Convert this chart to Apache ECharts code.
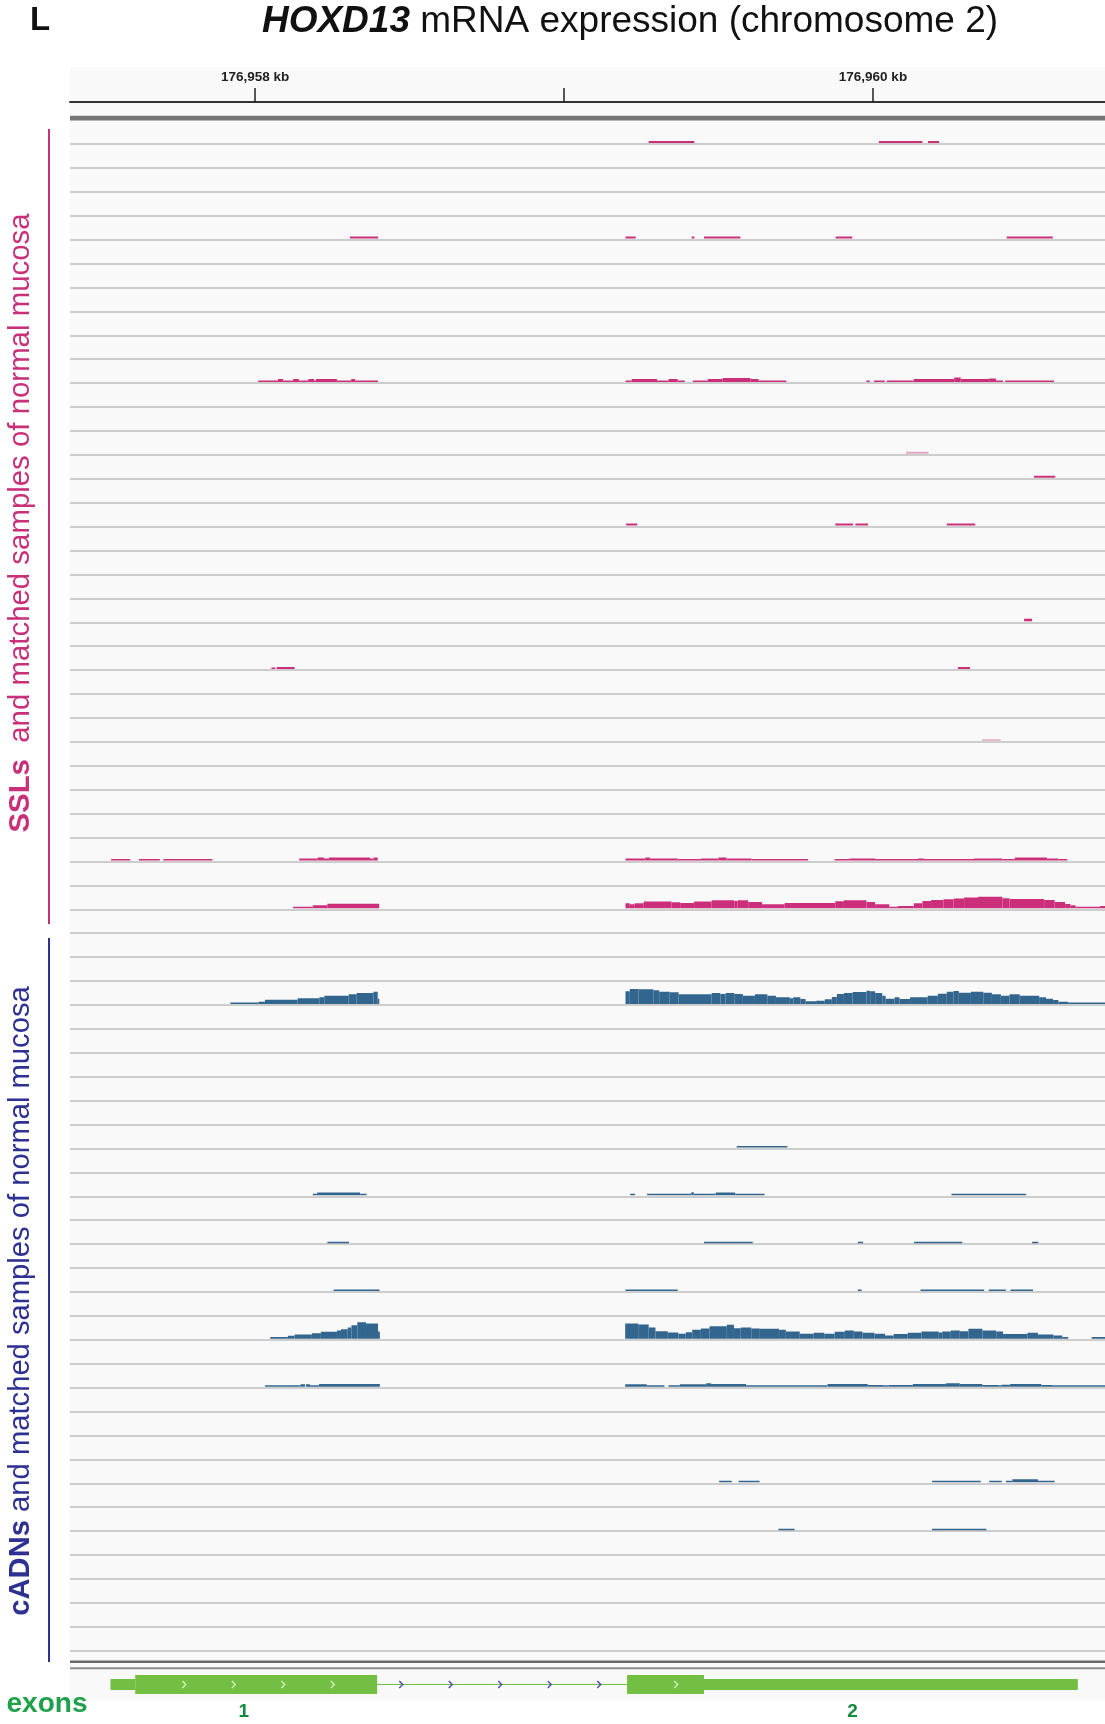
<!DOCTYPE html>
<html><head><meta charset="utf-8">
<script src="https://cdn.jsdelivr.net/npm/echarts@6/dist/echarts.min.js"></script>
<style>html,body{margin:0;padding:0;background:#fff}#c{width:1105px;height:1724px}</style>
</head><body><div id="c"></div><script>
// ---------- genomic window (bp) and ruler ----------
const X_MIN = 176957401, X_MAX = 176960751;
const RULER_TICKS = [176958000, 176959000, 176960000];
const RULER_LABELS = [176958000, 176960000];
const TRACK_COUNT = 64;
const DATA_RANGE = 24;   // coverage range of each track row

// ---------- coverage segments: [start bp, end bp, depth] ----------
const ssl_r00 = [[176959274,176959422,2],[176960019,176960160,2],[176960178,176960214,2]];
const ssl_r04 = [[176958307,176958398,2],[176959199,176959232,2],[176959413,176959422,2],[176959453,176959571,2],[176959879,176959933,2],[176960433,176960582,2]];
const ssl_r10 = [[176958010,176958074,1.5],[176958074,176958091,3],[176958091,176958123,1.5],[176958123,176958142,3],[176958142,176958172,1.5],[176958172,176958191,3],[176958191,176958197,1.5],[176958197,176958265,3],[176958265,176958311,1.5],[176958311,176958324,3],[176958324,176958398,1.5],
 [176959199,176959219,1.5],[176959219,176959301,3],[176959301,176959338,1.5],[176959338,176959368,3],[176959368,176959391,1.5],
 [176959417,176959465,1.5],[176959465,176959513,3],[176959513,176959604,4],[176959604,176959630,3],[176959630,176959720,1.5],
 [176959979,176959990,1.5],[176960003,176960038,1.5],[176960045,176960132,1.5],[176960132,176960263,3],[176960263,176960284,4.5],[176960284,176960376,3],[176960376,176960399,3.5],[176960399,176960421,1.5],[176960428,176960586,1.5]];
const ssl_r13 = [[176960107,176960180,2]];
const ssl_r14 = [[176960521,176960590,2]];
const ssl_r16 = [[176959201,176959237,2],[176959878,176959936,2],[176959943,176959984,2],[176960239,176960331,2]];
const ssl_r20 = [[176960489,176960515,2.5]];
const ssl_r22 = [[176958053,176958066,1.5],[176958070,176958128,2],[176960275,176960314,2]];
const ssl_r25 = [[176960353,176960413,1.5]];
const ssl_r30 = [[176957534,176957596,1.5],[176957624,176957692,1.5],[176957703,176957862,1.5],
 [176958143,176958202,2],[176958202,176958223,3],[176958223,176958239,2],[176958239,176958372,3],[176958372,176958383,2],[176958383,176958397,3],
 [176959199,176959263,2],[176959263,176959278,3],[176959278,176959368,2],[176959368,176959443,1],[176959443,176959500,2],[176959500,176959526,3],[176959526,176959607,2],[176959607,176959790,1],
 [176959876,176959923,1],[176959923,176960007,2],[176960007,176960146,1],[176960146,176960165,2],[176960165,176960327,1],[176960327,176960419,2],[176960419,176960459,1.5],[176960459,176960563,3],[176960563,176960600,2],[176960600,176960629,1]];
const ssl_r32 = [[176958123,176958187,1.5],[176958187,176958234,3],[176958234,176958402,4.5],
 [176959199,176959213,5],[176959213,176959229,4],[176959229,176959258,5],[176959258,176959348,6.7],[176959348,176959376,6],[176959376,176959421,5.3],[176959421,176959478,6.7],[176959478,176959551,8],[176959551,176959562,7.3],[176959562,176959596,8],[176959596,176959641,6.3],[176959641,176959714,4],[176959714,176959878,5.3],[176959878,176959906,7],[176959906,176959979,8],[176959979,176960007,6.3],[176960007,176960053,4],[176960053,176960081,1.3],[176960081,176960132,2.3],[176960132,176960160,5],[176960160,176960188,7.3],[176960188,176960228,8.3],[176960228,176960261,9],[176960261,176960295,9.7],[176960295,176960340,10.7],[176960340,176960419,11.7],[176960419,176960442,10],[176960442,176960554,9.3],[176960554,176960588,8.3],[176960588,176960622,6.3],[176960622,176960639,4.3],[176960639,176960656,3],[176960656,176960735,1.3],[176960735,176960751,2.3]];

const cadn_r36 = [[176957920,176958011,1.3],[176958011,176958032,2.3],[176958032,176958138,4.3],[176958138,176958208,5.7],[176958208,176958224,6.7],[176958224,176958303,8.3],[176958303,176958329,9.7],[176958329,176958383,11],[176958383,176958397,12.3],[176958397,176958402,5.3],
 [176959199,176959213,12.7],[176959213,176959241,15],[176959241,176959289,14.7],[176959289,176959308,13.7],[176959308,176959342,12.3],[176959342,176959371,11.7],[176959371,176959478,9.7],[176959478,176959506,11],[176959506,176959523,10],[176959523,176959551,11],[176959551,176959579,10],[176959579,176959618,8.3],[176959618,176959658,9.7],[176959658,176959686,8.3],[176959686,176959731,6.7],[176959731,176959742,5.7],[176959742,176959765,6.7],[176959765,176959782,5],[176959782,176959816,2.7],[176959816,176959844,3.3],[176959844,176959867,4.7],[176959867,176959883,7],[176959883,176959906,10],[176959906,176959934,11],[176959934,176959979,12],[176959979,176959991,13.3],[176959991,176960007,12.7],[176960007,176960030,11],[176960030,176960041,8.3],[176960041,176960070,5.3],[176960070,176960086,6.7],[176960086,176960120,5],[176960120,176960177,6.7],[176960177,176960210,8.3],[176960210,176960239,10.3],[176960239,176960261,12.3],[176960261,176960278,13],[176960278,176960317,11.3],[176960317,176960357,12.3],[176960357,176960385,11.3],[176960385,176960414,9.7],[176960414,176960442,8.3],[176960442,176960475,9.7],[176960475,176960538,8.3],[176960538,176960560,6.7],[176960560,176960583,5.3],[176960583,176960600,4],[176960600,176960631,2.3],[176960631,176960751,1.3]];
const cadn_r42 = [[176959559,176959723,1.5]];
const cadn_r44 = [[176958187,176958201,1],[176958201,176958340,2.7],[176958340,176958361,1],[176959214,176959230,1],[176959269,176959412,1.3],[176959412,176959420,3],[176959420,176959491,1.3],[176959491,176959554,2.7],[176959554,176959649,1.3],[176960254,176960496,1.3]];
const cadn_r46 = [[176958234,176958304,1.3],[176959453,176959611,1.3],[176959951,176959968,1.3],[176960133,176960289,1.3],[176960515,176960535,1.3]];
const cadn_r48 = [[176958254,176958403,1.3],[176959199,176959368,1.3],[176959951,176959963,1.3],[176960154,176960360,1.3],[176960375,176960430,1.3],[176960445,176960518,1.3]];
const cadn_r50 = [[176958049,176958106,1.7],[176958106,176958128,3],[176958128,176958184,4.3],[176958184,176958213,5.7],[176958213,176958265,7],[176958265,176958278,8.3],[176958278,176958300,9.7],[176958300,176958312,11.3],[176958312,176958331,13.7],[176958331,176958359,16.7],[176958359,176958398,15.3],[176958398,176958404,7.3],
 [176959198,176959240,15.3],[176959240,176959274,14.3],[176959274,176959296,11.3],[176959296,176959336,7.7],[176959336,176959370,6.3],[176959370,176959394,5],[176959394,176959415,6.7],[176959415,176959443,9],[176959443,176959471,10.3],[176959471,176959527,12.7],[176959527,176959550,14],[176959550,176959572,10.7],[176959572,176959606,11.3],[176959606,176959634,10.3],[176959634,176959696,10],[176959696,176959718,9],[176959718,176959763,7.3],[176959763,176959808,5],[176959808,176959842,6],[176959842,176959876,5],[176959876,176959909,7],[176959909,176959938,8.3],[176959938,176959966,7.3],[176959966,176960005,6],[176960005,176960039,5],[176960039,176960067,3.3],[176960067,176960112,4.7],[176960112,176960157,6],[176960157,176960213,7.3],[176960213,176960224,6.3],[176960224,176960252,7.3],[176960252,176960281,8.3],[176960281,176960309,7.7],[176960309,176960354,10],[176960354,176960399,8.3],[176960399,176960421,7.3],[176960421,176960500,4.7],[176960500,176960534,6],[176960534,176960584,4.3],[176960584,176960613,3.3],[176960613,176960632,1.7],[176960708,176960751,1.7]];
const cadn_r52 = [[176958032,176958147,1.3],[176958147,176958162,2.3],[176958165,176958178,2.3],[176958178,176958207,1.3],[176958207,176958404,2.7],
 [176959198,176959268,2.3],[176959268,176959325,1],[176959338,176959375,1],[176959375,176959460,2.3],[176959460,176959476,3.3],[176959476,176959589,2.7],[176959589,176959853,1.3],[176959853,176959983,2.7],[176959983,176960033,1.7],[176960033,176960050,1],[176960050,176960129,1.7],[176960129,176960236,2.7],[176960236,176960281,3.3],[176960281,176960354,2.7],[176960354,176960405,1.7],[176960405,176960416,1],[176960416,176960444,2],[176960444,176960545,2.7],[176960545,176960582,1.7],[176960582,176960751,1]];
const cadn_r56 = [[176959502,176959543,1.3],[176959565,176959633,1.3],[176960191,176960349,1.3],[176960376,176960417,1.3],[176960430,176960451,1.3],[176960451,176960534,3],[176960534,176960588,1.3]];
const cadn_r58 = [[176959694,176959746,1.3],[176960191,176960367,1.3]];

// track row index (0 = top) -> segments, sample group
const TRACKS = [
  [0, ssl_r00, 'ssl'], [4, ssl_r04, 'ssl'], [10, ssl_r10, 'ssl'], [13, ssl_r13, 'sslLight'],
  [14, ssl_r14, 'ssl'], [16, ssl_r16, 'ssl'], [20, ssl_r20, 'ssl'], [22, ssl_r22, 'ssl'],
  [25, ssl_r25, 'sslLight'], [30, ssl_r30, 'ssl'], [32, ssl_r32, 'ssl'],
  [36, cadn_r36, 'cadn'], [42, cadn_r42, 'cadn'], [44, cadn_r44, 'cadn'], [46, cadn_r46, 'cadn'],
  [48, cadn_r48, 'cadn'], [50, cadn_r50, 'cadn'], [52, cadn_r52, 'cadn'], [56, cadn_r56, 'cadn'], [58, cadn_r58, 'cadn']
];

// ---------- gene model (HOXD13) ----------
const GENE_PARTS = [[176957532,176957612,'utr'],[176957612,176958395,'cds'],[176958395,176959204,'intron'],[176959204,176959453,'cds'],[176959453,176960663,'utr']];
const EXONS = [[176957532,176958395],[176959204,176960663]];
const EXON_NUMBERS = ['1', '2'];

// ---------- styling ----------
const F = "'Liberation Sans', Arial, Helvetica, sans-serif";
const GROUP_COLORS = { ssl: '#cc2f7a', sslLight: '#e3a6c2', cadn: '#33668f' };
const PINK = '#c8307a', NAVY = '#2e3192';
const EXON_GREEN = '#72bf44';
const KIND_CODE = { intron: 0, utr: 1, cds: 2 };

function coverageRender(params, api) {
  const s = api.value(0), e = api.value(1), row = api.value(2), d = api.value(3);
  const a = api.coord([s, row + 1]);
  const b = api.coord([e, row + 1 - d / DATA_RANGE]);
  const h = Math.max(1.5, a[1] - b[1]);
  const base = a[1] - 1;
  return { type: 'rect', shape: { x: a[0], y: base - h, width: Math.max(1, b[0] - a[0]), height: h },
           style: { fill: api.visual('color') } };
}
function chev(x, y, color) {
  return { type: 'polyline', shape: { points: [[x - 1.8, y - 3.5], [x + 1.6, y], [x - 1.8, y + 3.5]] },
           style: { stroke: color, lineWidth: 1.4, fill: null } };
}
function geneRender(params, api) {
  const s = api.value(0), e = api.value(1), kind = api.value(3);
  const a = api.coord([s, 0.5]), b = api.coord([e, 0.5]);
  const cy = a[1];
  const children = [];
  if (kind === 0) {
    children.push({ type: 'line', shape: { x1: a[0], y1: cy, x2: b[0], y2: cy }, style: { stroke: EXON_GREEN, lineWidth: 1.2 } });
    for (let x = a[0] + 24; x < b[0] - 20; x += 49.5) children.push(chev(x, cy, '#4b4bb5'));
  } else {
    const hh = kind === 2 ? 9.5 : 5.5;
    children.push({ type: 'rect', shape: { x: a[0], y: cy - hh, width: b[0] - a[0], height: hh * 2 }, style: { fill: EXON_GREEN } });
    if (kind === 2) for (let x = a[0] + 49; x < b[0] - 20; x += 49.5) children.push(chev(x, cy, '#d6efb4'));
  }
  return { type: 'group', children };
}
function exonLabelRender(params, api) {
  const a = api.coord([api.value(0), 0.5]), b = api.coord([api.value(1), 0.5]);
  return { type: 'text', x: (a[0] + b[0]) / 2, y: a[1] + 27.5,
           style: { text: EXON_NUMBERS[params.dataIndex], fill: '#138a3e', font: 'bold 19px ' + F,
                    align: 'center', verticalAlign: 'middle', textAlign: 'center', textVerticalAlign: 'middle' } };
}

const groupData = { ssl: [], sslLight: [], cadn: [] };
TRACKS.forEach(([row, segs, g]) => segs.forEach(sg => groupData[g].push([sg[0], sg[1], row, sg[2]])));

const hiddenX = (gi) => ({ type: 'value', gridIndex: gi, min: X_MIN, max: X_MAX, show: false, splitLine: { show: false } });

const option = {
  animation: false,
  backgroundColor: '#ffffff',
  grid: [
    { left: 70, right: 0, top: 67, height: 35 },
    { left: 70, right: 0, top: 120, height: 1541.5 },
    { left: 70, right: 0, top: 1670, height: 29 }
  ],
  xAxis: [
    { type: 'value', gridIndex: 0, min: X_MIN, max: X_MAX, position: 'bottom',
      axisLine: { show: true, lineStyle: { color: '#333', width: 2 } },
      axisTick: { show: true, inside: true, length: 14, customValues: RULER_TICKS, lineStyle: { color: '#222', width: 1.5 } },
      axisLabel: { show: true, inside: true, margin: 18, customValues: RULER_LABELS,
        formatter: v => Math.round(v / 1000).toLocaleString('en-US') + ' kb',
        fontWeight: 'bold', fontSize: 13.5, color: '#222', fontFamily: F },
      splitLine: { show: false } },
    hiddenX(1), hiddenX(2)
  ],
  yAxis: [
    { type: 'value', gridIndex: 0, min: 0, max: 1, show: false },
    { type: 'value', gridIndex: 1, min: 0, max: 64.45, interval: 1, inverse: true,
      axisLine: { show: false }, axisTick: { show: false }, axisLabel: { show: false },
      splitLine: { show: true, lineStyle: { color: '#cdcdcd', width: 2 } } },
    { type: 'value', gridIndex: 2, min: 0, max: 1, show: false }
  ],
  series: [
    ...Object.keys(groupData).map(g => ({
      type: 'custom', name: g, xAxisIndex: 1, yAxisIndex: 1, clip: true,
      itemStyle: { color: GROUP_COLORS[g] }, encode: { x: [0, 1], y: 2 },
      renderItem: coverageRender, data: groupData[g], z: 3
    })),
    { type: 'custom', name: 'gene', xAxisIndex: 2, yAxisIndex: 2, encode: { x: [0, 1], y: 2 },
      renderItem: geneRender, data: GENE_PARTS.map(p => [p[0], p[1], 0.5, KIND_CODE[p[2]]]) },
    { type: 'custom', name: 'exonNumbers', xAxisIndex: 2, yAxisIndex: 2, encode: { x: [0, 1], y: 2 },
      renderItem: exonLabelRender, data: EXONS.map(ex => [ex[0], ex[1], 0.5]) }
  ],
  graphic: [
    { type: 'rect', z: -10, shape: { x: 70, y: 67, width: 1035, height: 1633 }, style: { fill: '#f9f9f9' } },
    { type: 'rect', z: 10, shape: { x: 70, y: 115.8, width: 1035, height: 4.4 }, style: { fill: '#767676' } },
    { type: 'rect', z: 10, shape: { x: 70, y: 1660.5, width: 1035, height: 2.4 }, style: { fill: '#6a6a6a' } },
    { type: 'rect', z: 10, shape: { x: 70, y: 1667.2, width: 1035, height: 2 }, style: { fill: '#8c8c8c' } },
    { type: 'line', z: 10, shape: { x1: 49, y1: 129, x2: 49, y2: 924 }, style: { stroke: PINK, lineWidth: 2 } },
    { type: 'line', z: 10, shape: { x1: 49, y1: 938, x2: 49, y2: 1662 }, style: { stroke: NAVY, lineWidth: 2 } },
    { type: 'text', z: 10, x: 40, y: 21, style: { text: 'L', font: 'bold 33px ' + F, fill: '#111', align: 'center', verticalAlign: 'middle' } },
    { type: 'text', z: 10, x: 630, y: 22, style: {
        text: '{a|HOXD13}{b| mRNA expression (chromosome 2)}', align: 'center', verticalAlign: 'middle',
        rich: { a: { fontStyle: 'italic', fontWeight: 'bold', fontSize: 37, fontFamily: F, fill: '#111' },
                b: { fontSize: 37, fontFamily: F, fill: '#111' } } } },
    { type: 'text', z: 10, x: 21, y: 523, rotation: Math.PI / 2, style: {
        text: '{a|SSLs}{b|  and matched samples of normal mucosa}', align: 'center', verticalAlign: 'middle',
        rich: { a: { fontWeight: 'bold', fontSize: 29.4, fontFamily: F, fill: PINK },
                b: { fontSize: 29.4, fontFamily: F, fill: PINK } } } },
    { type: 'text', z: 10, x: 21, y: 1301, rotation: Math.PI / 2, style: {
        text: '{a|cADNs}{b| and matched samples of normal mucosa}', align: 'center', verticalAlign: 'middle',
        rich: { a: { fontWeight: 'bold', fontSize: 29.2, fontFamily: F, fill: NAVY },
                b: { fontSize: 29.2, fontFamily: F, fill: NAVY } } } },
    { type: 'text', z: 10, x: 47, y: 1704, style: { text: 'exons', font: 'bold 28px ' + F, fill: '#1fa04b', align: 'center', verticalAlign: 'middle' } }
  ]
};
const chart = echarts.init(document.getElementById('c'), null, { renderer: 'canvas' });
chart.setOption(option);
</script></body></html>
